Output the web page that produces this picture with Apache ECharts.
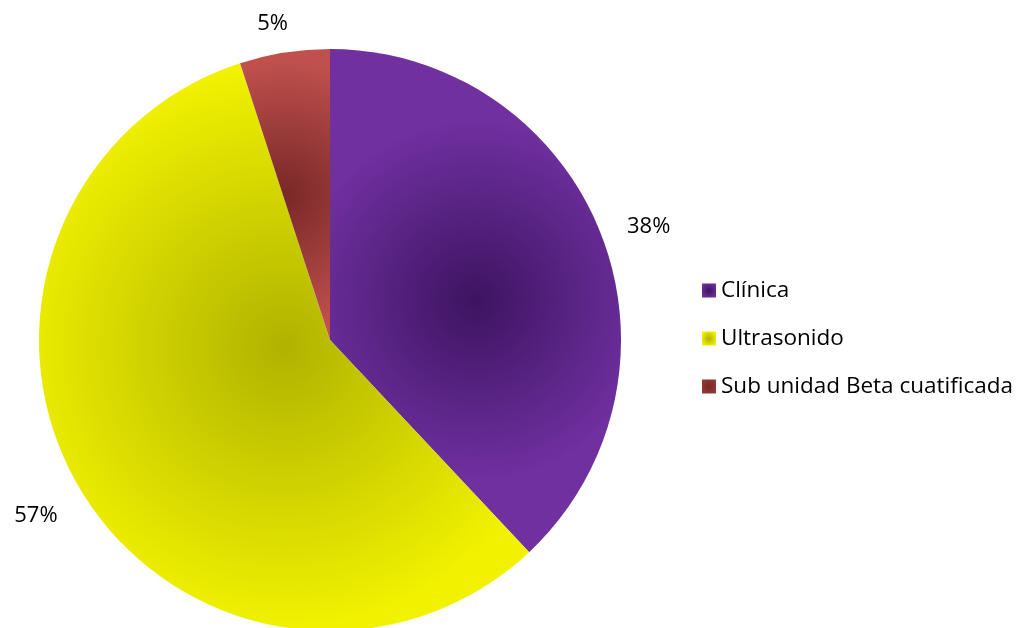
<!DOCTYPE html>
<html>
<head>
<meta charset="utf-8">
<script src="https://cdn.jsdelivr.net/npm/echarts@6/dist/echarts.min.js"></script>
<style>
  html, body { margin: 0; padding: 0; background: #ffffff; }
  #chart { width: 1026px; height: 628px; }
</style>
</head>
<body>
<div id="chart"></div>
<script>
// Categories and their shares (percent)
const categories = ['Clínica', 'Ultrasonido', 'Sub unidad Beta cuatificada'];
const values = [38, 57, 5];

// Shading per slice: dark centre, light rim
const innerColors = ['#3d1461', '#afb300', '#782828'];
const outerColors = ['#7030a0', '#f2f200', '#c0504d'];
const gradientRadius = [0.62, 0.58, 1.5];

// Small nudges for the percentage labels
const labelShiftX = [1, 2, 12];
const labelShiftY = [2, 16, -7];

function radial(i) {
  return {
    type: 'radial', x: 0.5, y: 0.5, r: gradientRadius[i],
    colorStops: [
      { offset: 0, color: innerColors[i] },
      { offset: 1, color: outerColors[i] }
    ]
  };
}

const chart = echarts.init(document.getElementById('chart'));
chart.setOption({
  animation: false,
  backgroundColor: '#ffffff',
  legend: {
    orient: 'vertical',
    left: 697,
    top: 274,
    itemWidth: 14,
    itemHeight: 14,
    itemGap: 25,
    icon: 'rect',
    textStyle: { fontFamily: 'Open Sans', fontSize: 22.5, color: '#000000' },
    data: categories
  },
  series: [{
    type: 'pie',
    center: [330, 340],
    radius: 291,
    startAngle: 90,
    clockwise: true,
    avoidLabelOverlap: false,
    label: {
      show: true,
      position: 'outside',
      formatter: function (p) { return p.value + '%'; },
      fontFamily: 'Open Sans',
      fontSize: 22,
      color: '#000000'
    },
    labelLine: { show: false, length: 22, length2: 0 },
    labelLayout: function (params) {
      return { dx: labelShiftX[params.dataIndex], dy: labelShiftY[params.dataIndex] };
    },
    itemStyle: { borderWidth: 0 },
    data: categories.map(function (name, i) {
      return { name: name, value: values[i], itemStyle: { color: radial(i) } };
    })
  }]
});
</script>
</body>
</html>
